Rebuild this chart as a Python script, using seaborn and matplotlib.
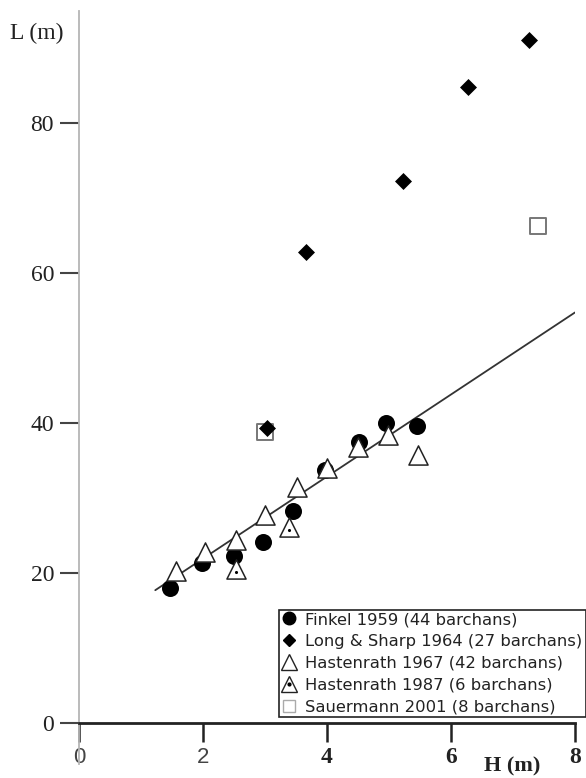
import matplotlib
matplotlib.use("Agg")
import matplotlib.pyplot as plt
from matplotlib.lines import Line2D
from matplotlib.legend_handler import HandlerTuple
import seaborn as sns
import pandas as pd

# ---- data ----
finkel_h = [1.46, 1.99, 2.50, 2.96, 3.45, 3.96, 4.51, 4.95, 5.45]
finkel_l = [18.0, 21.3, 22.3, 24.1, 28.3, 33.7, 37.5, 40.0, 39.6]

long_h = [3.04, 3.66, 5.22, 6.27, 7.25]
long_l = [39.3, 62.8, 72.3, 84.8, 91.1]

hast67_h = [1.56, 2.03, 2.53, 3.00, 3.51, 4.00, 4.50, 4.99, 5.47]
hast67_l = [20.3, 22.8, 24.4, 27.7, 31.5, 34.0, 36.8, 38.4, 35.7]

hast87_h = [2.53, 3.38]
hast87_l = [20.6, 26.2]

sauer_h = [3.00, 7.41]
sauer_l = [38.8, 66.3]

fit_slope = 5.47
fit_intercept = 10.98
fit_h_range = [1.23, 8.0]

legend_labels = ["Finkel 1959 (44 barchans)",
                 "Long & Sharp 1964 (27 barchans)",
                 "Hastenrath 1967 (42 barchans)",
                 "Hastenrath 1987 (6 barchans)",
                 "Sauermann 2001 (8 barchans)"]
x_ticks = [0, 2, 4, 6, 8]
y_ticks = [0, 20, 40, 60, 80]

sns.set_style("white")
plt.rcParams['font.family'] = ['Liberation Serif', 'DejaVu Serif']

W, H = 586, 778
fig = plt.figure(figsize=(W / 100, H / 100), dpi=100)
ax0_px, ax0_py = 79, 723
ax = fig.add_axes([ax0_px / W, (H - ax0_py) / H, (575 - 79) / W, (723 - 10.5) / H])
ax.set_xlim(0, 8)
ax.set_ylim(0, 95)

# regression line
fit_df = pd.DataFrame({"H": fit_h_range,
                       "L": [fit_slope * h + fit_intercept for h in fit_h_range]})
sns.lineplot(data=fit_df, x="H", y="L", ax=ax, color="#333333", lw=1.3, zorder=1)

# series
sns.scatterplot(x=sauer_h, y=sauer_l, ax=ax, marker="s", s=120, facecolor="white",
                edgecolor="#777777", linewidth=1.4, zorder=2)
sns.scatterplot(x=finkel_h, y=finkel_l, ax=ax, marker="o", s=150, color="black",
                edgecolor="black", linewidth=0, zorder=3)
sns.scatterplot(x=hast67_h, y=hast67_l, ax=ax, marker="^", s=190, facecolor="white",
                edgecolor="#222222", linewidth=1.1, zorder=4)
sns.scatterplot(x=hast87_h, y=hast87_l, ax=ax, marker="^", s=190, facecolor="white",
                edgecolor="#222222", linewidth=1.1, zorder=4)
sns.scatterplot(x=hast87_h, y=[v - 0.4 for v in hast87_l], ax=ax, marker="o", s=5,
                color="black", linewidth=0, zorder=5)
sns.scatterplot(x=long_h, y=long_l, ax=ax, marker="D", s=75, color="black",
                edgecolor="black", linewidth=0, zorder=6)

# spines
for side in ["top", "right"]:
    ax.spines[side].set_visible(False)
ax.spines["left"].set_color("#b5b5b5")
ax.spines["left"].set_linewidth(1.3)
ax.spines["left"].set_bounds(-5.4, 95)
ax.spines["bottom"].set_color("#222222")
ax.spines["bottom"].set_linewidth(2)

ax.set_xticks(x_ticks)
ax.set_yticks(y_ticks)
ax.set_yticklabels([str(t) for t in y_ticks])
ax.set_xticklabels([str(t) for t in x_ticks])
ax.tick_params(axis="y", direction="out", length=14, width=1.5, color="#444444",
               pad=4, labelsize=17, labelcolor="#222222", left=True)
ax.tick_params(axis="x", direction="out", length=13.5, width=1.8, color="#222222",
               pad=4, labelsize=17, labelcolor="#222222", bottom=True)
for i, lab in enumerate(ax.get_xticklabels()):
    if i < 2:
        lab.set_family(["Liberation Sans", "DejaVu Sans"])
        lab.set_fontsize(16)
        lab.set_color("#444444")
    else:
        lab.set_fontweight("bold")
ax.set_xlabel("")
ax.set_ylabel("")

fig.text(10 / W, 1 - 33 / H, "L (m)", fontsize=17, ha="left", va="center",
         color="#222222")
fig.text(512 / W, 1 - 766 / H, "H (m)", fontsize=16, ha="center", va="center",
         color="#222222", fontweight="bold")

# legend
h_f = Line2D([], [], ls="none", marker="o", ms=9, color="black", mec="black")
h_l = Line2D([], [], ls="none", marker="D", ms=6.5, color="black", mec="black")
h_t = Line2D([], [], ls="none", marker="^", ms=11, mfc="white", mec="#222222", mew=1)
h_t2 = Line2D([], [], ls="none", marker="^", ms=11, mfc="white", mec="#222222", mew=1)
h_d = Line2D([], [], ls="none", marker="o", ms=2, color="black")
h_s = Line2D([], [], ls="none", marker="s", ms=8.5, mfc="white", mec="#aaaaaa", mew=1)
leg = ax.legend([h_f, h_l, h_t, (h_t2, h_d), h_s], legend_labels,
                handler_map={tuple: HandlerTuple(ndivide=1)},
                loc="lower left", bbox_to_anchor=(279 / W, (H - 717) / H, (586 - 279) / W,
                                                  (717 - 610) / H),
                bbox_transform=fig.transFigure, mode="expand",
                prop={"family": ["DejaVu Sans"], "size": 11.8},
                frameon=True, fancybox=False, framealpha=1, edgecolor="#222222",
                borderpad=0.15, labelspacing=0.42, handlelength=0.9,
                handletextpad=0.55, borderaxespad=0)
leg.get_frame().set_linewidth(1.2)
for t in leg.get_texts():
    t.set_color("#222222")

fig.savefig("out.png", dpi=100)
